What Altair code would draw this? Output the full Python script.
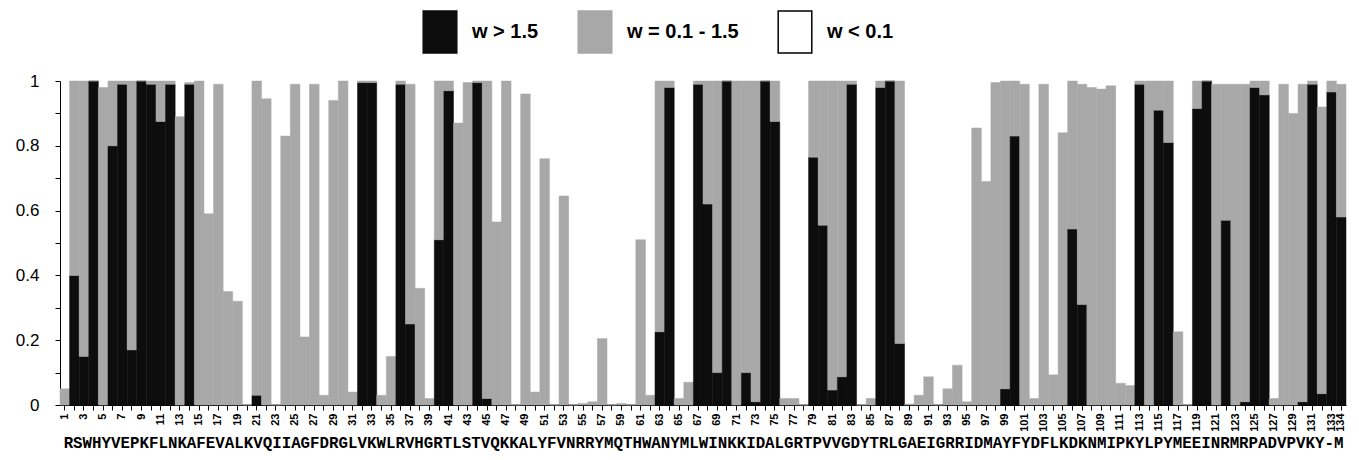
import altair as alt
import pandas as pd

# position numbers 1..134
positions = list(range(1, 135))

# fraction with w > 1.5 (black, bottom of each bar)
black = [
    0, 0.40, 0.15, 1.0, 0, 0.80, 0.99, 0.17, 1.0, 0.99,
    0.875, 0.99, 0, 0.99, 0, 0, 0, 0, 0, 0,
    0.03, 0, 0, 0, 0, 0, 0, 0, 0, 0,
    0, 0.995, 0.995, 0, 0, 0.99, 0.25, 0, 0, 0.51,
    0.97, 0, 0, 0.995, 0.02, 0, 0, 0, 0, 0,
    0, 0, 0, 0, 0, 0, 0, 0, 0, 0,
    0, 0, 0.226, 0.98, 0, 0, 0.99, 0.62, 0.10, 1.0,
    0, 0.10, 0.01, 1.0, 0.875, 0, 0, 0, 0.765, 0.555,
    0.046, 0.087, 0.99, 0, 0, 0.98, 1.0, 0.19, 0, 0,
    0, 0, 0, 0, 0, 0, 0, 0, 0.05, 0.83,
    0, 0, 0, 0, 0, 0.543, 0.31, 0, 0, 0,
    0, 0, 0.99, 0, 0.91, 0.81, 0, 0, 0.915, 1.0,
    0, 0.57, 0, 0.01, 0.98, 0.957, 0, 0, 0, 0.01,
    0.99, 0.035, 0.966, 0.58,
]

# cumulative top of the grey part (w > 0.1)
top = [
    0.05, 1.0, 1.0, 1.0, 0.98, 1.0, 1.0, 1.0, 1.0, 1.0,
    1.0, 1.0, 0.89, 0.995, 1.0, 0.59, 0.99, 0.35, 0.32, 0,
    1.0, 0.945, 0, 0.83, 0.99, 0.21, 0.99, 0.03, 0.94, 1.0,
    0.04, 1.0, 1.0, 0.03, 0.15, 1.0, 0.99, 0.36, 0.02, 1.0,
    1.0, 0.87, 0.995, 1.0, 1.0, 0.565, 1.0, 0, 0.96, 0.04,
    0.76, 0, 0.645, 0, 0.005, 0.01, 0.205, 0, 0.005, 0,
    0.51, 0.03, 1.0, 1.0, 0.02, 0.07, 1.0, 1.0, 1.0, 1.0,
    1.0, 1.0, 1.0, 1.0, 1.0, 0.02, 0.02, 0, 1.0, 1.0,
    1.0, 1.0, 1.0, 0, 0.02, 1.0, 1.0, 1.0, 0.003, 0.03,
    0.087, 0, 0.05, 0.123, 0.01, 0.855, 0.69, 0.995, 1.0, 1.0,
    0.99, 0.02, 0.99, 0.093, 0.84, 1.0, 0.99, 0.98, 0.975, 0.985,
    0.067, 0.06, 1.0, 1.0, 1.0, 1.0, 0.226, 0, 1.0, 1.0,
    0.99, 0.99, 0.99, 0.99, 1.0, 1.0, 0.02, 0.99, 0.90, 0.99,
    1.0, 0.92, 1.0, 0.99,
]

categories = ["w > 1.5", "w = 0.1 - 1.5", "w < 0.1"]
fills = ["#0d0d0d", "#a8a8a8", "#ffffff"]
strokes = ["#0d0d0d", "#a8a8a8", "#000000"]

sequence = "RSWHYVEPKFLNKAFEVALKVQIIAGFDRGLVKWLRVHGRTLSTVQKKALYFVNRRYMQTHWANYMLWINKKIDALGRTPVVGDYTRLGAEIGRRIDMAYFYDFLKDKNMIPKYLPYMEEINRMRPADVPVKY-M"

y_ticks = [round(i * 0.1, 1) for i in range(11)]

rows = []
for p, b, t in zip(positions, black, top):
    rows.append({"pos": p, "cat": categories[0], "val": b, "ord": 0})
    rows.append({"pos": p, "cat": categories[1], "val": max(t - b, 0), "ord": 1})
df = pd.DataFrame(rows)

legend = alt.Legend(
    title=None,
    orient="none",
    legendX=358,
    legendY=-71,
    direction="horizontal",
    columns=3,
    padding=0,
    symbolType="M-0.8,-1L0.8,-1L0.8,1L-0.8,1Z",
    symbolSize=1764,
    symbolStrokeWidth=1.5,
    symbolOpacity=1,
    labelFont="Liberation Sans",
    labelFontWeight="bold",
    labelFontSize=20,
    labelColor="black",
    labelOffset=10,
    columnPadding=34,
)

chart = (
    alt.Chart(df)
    .mark_bar(strokeWidth=0.5)
    .encode(
        x=alt.X(
            "pos:O",
            scale=alt.Scale(paddingInner=0, paddingOuter=0),
            title=sequence,
            axis=alt.Axis(
                labelExpr="(datum.value % 2 == 1 || datum.value == 134) ? datum.label : ''",
                labelAngle=270,
                labelFont="Liberation Sans",
                labelFontWeight="bold",
                labelFontSize=11,
                labelColor="black",
                labelPadding=3,
                labelOverlap=False,
                tickSize=5,
                tickColor="black",
                domainColor="black",
                titleFont="Liberation Mono",
                titleFontWeight="bold",
                titleFontSize=15.8,
                titleColor="black",
                titlePadding=4,
            ),
        ),
        y=alt.Y(
            "val:Q",
            stack="zero",
            scale=alt.Scale(domain=[0, 1], nice=False),
            axis=alt.Axis(
                values=y_ticks,
                format="~g",
                labelExpr="round(datum.value * 10) % 2 == 0 ? datum.label : ''",
                labelFont="Liberation Sans",
                labelFontSize=17,
                labelColor="black",
                labelPadding=16,
                tickSize=5,
                tickColor="black",
                domainColor="black",
                grid=False,
                title=None,
            ),
        ),
        color=alt.Color("cat:N", scale=alt.Scale(domain=categories, range=fills), legend=legend),
        stroke=alt.Stroke("cat:N", scale=alt.Scale(domain=categories, range=strokes), legend=legend),
        order=alt.Order("ord:Q"),
    )
    .properties(
        width=1286,
        height=324,
        padding={"left": 52, "top": 73, "right": 5, "bottom": 56},
        autosize=alt.AutoSizeParams(type="none"),
        background="white",
    )
    .configure_view(stroke=None)
)

chart.save("out.html", embed_options={"renderer": "svg", "actions": False})
